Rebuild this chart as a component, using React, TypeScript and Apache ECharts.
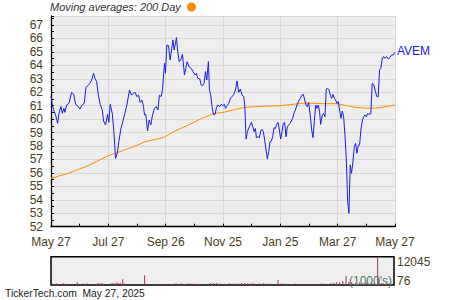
import { useEffect, useRef } from "react";
import * as echarts from "echarts";

// ---- data ----
const xTickLabels = ["May 27", "Jul 27", "Sep 26", "Nov 25", "Jan 25", "Mar 27", "May 27"];
const tickerName = "AVEM";
const legendText = "Moving averages: 200 Day";
const footerText = "TickerTech.com  May 27, 2025";
const volumeMaxLabel = "12045";
const volumeMinLabel = "76";
const volumeUnitLabel = "(1000's)";

// day offsets from May 27, 2024
const priceDays = [
  0, 1.4, 3.5, 4.9, 7.0, 8.8, 10.6, 12.0, 13.7, 14.8, 16.6, 19.0, 21.9, 24.0, 26.1, 28.2, 30.7, 32.5, 35.3, 37.1,
  38.8, 41.3, 43.1, 45.2, 46.6, 48.4, 50.1, 52.2, 54.4, 55.8, 57.9, 60.0, 61.4, 62.8, 65.0, 66.7, 68.5, 70.3, 72.0,
  74.2, 76.6, 78.4, 80.5, 83.3, 85.4, 87.2,
  89.3, 91.1, 92.9, 94.6, 96.4, 98.2, 99.2, 100.6, 102.4, 104.2, 105.9, 107.7, 109.8, 111.6, 113.4, 115.1, 116.9,
  118.3, 120.4, 121.5, 122.9, 124.7, 126.4, 128.2, 129.3, 130.7, 131.7, 133.1, 134.5, 136.0, 137.7, 139.5, 141.6,
  143.0, 144.4, 146.5, 148.7, 150.8, 152.9, 154.3, 155.7, 157.9, 159.3, 161.0, 162.4, 163.9, 165.3, 167.0, 168.1,
  169.5, 170.9, 172.4, 174.1, 175.5, 176.9, 179.1, 180.5, 182.2, 184.0,
  185.1, 186.8, 188.6, 190.4, 192.1, 193.9, 195.7, 197.4, 199.2, 201.0, 202.7, 204.5, 205.6, 207.0, 208.4, 210.5,
  212.6, 214.1, 215.5, 216.9, 217.9, 219.7, 221.1, 222.5, 223.9, 225.3, 226.7, 228.2, 229.6, 231.0, 232.4, 233.8,
  235.2, 236.6, 238.0, 239.4, 240.9, 242.3, 243.7, 245.1, 246.5, 247.9, 249.4, 250.8, 252.2, 253.6, 255.0, 256.4,
  257.8, 259.3, 261.0, 262.8, 264.6, 266.3, 267.8, 269.2, 270.6, 272.0, 273.4, 275.5, 276.6, 278.0,
  279.4, 280.8, 282.2, 283.6, 285.0, 286.1, 287.9, 289.3, 290.7, 292.1, 293.5, 295.0, 296.4, 297.8, 299.2, 300.6,
  302.0, 303.4, 304.8, 306.2, 307.7, 309.1, 310.5, 311.9, 313.3, 314.7, 316.1, 317.5, 318.9, 320.4, 321.8, 323.2,
  324.6, 326.0, 327.4, 328.8, 330.2, 331.6, 333.1, 334.5, 335.9, 337.3, 339.4, 340.8, 342.6, 344.3, 345.8, 347.2,
  348.6, 350.0, 351.4, 352.8, 354.2, 356.0, 357.8, 359.5, 361.3, 363.1, 365.0,
];
const prices = [
  61.72, 61.05, 60.55, 60.31, 59.69, 60.55, 60.93, 60.43, 60.8, 60.5, 61.05, 61.17, 61.99, 61.84, 61.1, 61.0, 60.75,
  61.0, 61.2, 62.34, 62.49, 62.66, 62.91, 63.41, 63.04, 62.79, 61.87, 61.1, 60.68, 59.86, 59.56, 60.36, 59.76, 61.1,
  60.43, 59.07, 57.08, 57.45, 58.32, 59.31, 59.93, 60.43, 61.05, 62.17, 61.79, 61.92,
  61.99, 61.67, 61.79, 61.25, 61.42, 60.93, 60.31, 60.36, 59.12, 59.93, 59.56, 60.31, 60.8, 60.93, 60.68, 61.79,
  61.67, 62.17, 64.15, 63.41, 65.51, 65.46, 64.4, 65.27, 65.89, 65.14, 65.51, 66.06, 65.02, 64.27, 64.4, 64.82,
  63.28, 63.78, 64.27, 63.9, 63.78, 63.53, 63.28, 63.41, 63.04, 62.98, 62.54, 62.49, 62.66, 63.53, 62.91, 64.27,
  62.17, 61.79, 60.93, 60.36, 60.36, 60.85, 61.05, 60.93, 61.1, 61.0, 61.1,
  60.8, 61.0, 61.17, 61.55, 61.67, 61.84, 62.17, 62.84, 61.99, 62.24, 61.79, 61.67, 61.05, 58.52, 59.07, 59.44,
  59.76, 59.44, 59.07, 59.31, 58.62, 58.69, 58.62, 59.12, 59.24, 59.07, 58.45, 57.7, 57.03, 57.58, 58.32, 58.37,
  58.69, 59.36, 59.31, 59.61, 59.76, 59.19, 58.52, 59.07, 59.69, 59.76, 58.69, 59.44, 59.56, 59.69, 59.86, 60.06,
  60.43, 60.68, 61.05, 61.35, 61.55, 61.79, 61.84, 61.42, 61.05, 60.93, 61.25, 60.0, 59.19, 58.62,
  59.81, 61.05, 60.8, 61.05, 60.55, 59.61, 60.31, 60.43, 60.18, 62.24, 62.29, 62.17, 61.79, 61.55, 61.84, 61.55,
  61.42, 61.17, 61.3, 60.68, 60.06, 60.6, 60.18, 58.82, 57.08, 53.98, 52.99, 56.59, 55.97, 56.84, 57.95, 58.2,
  57.45, 58.07, 58.07, 59.19, 59.81, 60.18, 60.31, 60.18, 60.41, 60.36, 60.41, 62.66, 62.54, 62.04, 61.67, 61.67,
  63.65, 63.78, 64.47, 64.65, 64.52, 64.65, 64.47, 64.57, 64.77, 64.77, 64.97,
];

const maDays = [0, 18.3, 39.5, 60.7, 71.3, 91.8, 100, 119, 131.7, 145.8, 159.9, 174, 184, 195.7, 206.3, 223.9, 243.4, 259.3, 269.9, 287.9, 303.7, 312.6, 323.2, 333.8, 344.3, 353.2, 365];
const maValues = [55.6, 55.97, 56.54, 57.28, 57.53, 58.07, 58.32, 58.62, 59.12, 59.56, 60.06, 60.43, 60.52, 60.73, 60.88, 60.95, 61.0, 61.12, 61.2, 61.15, 61.15, 61.02, 60.88, 60.82, 60.82, 60.9, 61.05];

const volumeDays = [
  2, 4, 6, 8, 11, 13, 15, 17, 28, 34, 36, 38, 50, 52, 54, 56, 64, 66, 68, 70, 72, 74, 76.4, 78, 99.6, 112, 115, 118,
  121, 124, 133, 136, 139, 142, 145, 148, 151, 154, 156, 170, 173, 176, 179, 182, 186, 190, 194, 198, 203, 206, 209,
  212, 215, 218, 222, 226, 230, 234, 241.6, 245, 250, 255, 260, 265, 270, 275, 280, 285, 288, 298, 301, 304, 307,
  310.5, 314, 317, 320, 324, 328, 332, 336, 340, 344, 347.6, 349, 352, 356, 360, 363,
];
const volumes = [
  500, 420, 600, 380, 450, 700, 520, 400, 1200, 600, 450, 700, 800, 600, 900, 500, 700, 900, 600, 1100, 800, 700,
  2400, 600, 4200, 400, 450, 380, 420, 400, 700, 500, 800, 450, 600, 750, 500, 650, 400, 800, 700, 900, 600, 500,
  450, 700, 500, 600, 800, 900, 700, 650, 800, 500, 600, 700, 650, 500, 2100, 600, 500, 450, 600, 500, 550, 480,
  500, 520, 600, 900, 1000, 1200, 1100, 1700, 3800, 1400, 1200, 900, 1100, 800, 1200, 900, 700, 12045, 2800, 900,
  700, 600, 500,
];

const FONT = "'Liberation Sans', Arial, Helvetica, sans-serif";
const LABEL_COLOR = "#4a3e22";
const STEP = 365 / 6;

export default function App() {
  const ref = useRef<HTMLDivElement>(null);

  useEffect(() => {
    if (!ref.current) return;
    const chart = echarts.init(ref.current, undefined, { renderer: "svg" });

    const priceData = priceDays.map((d, i) => [d, prices[i]]);
    const maData = maDays.map((d, i) => [d, maValues[i]]);
    const volData = volumeDays.map((d, i) => [d, volumes[i]]);

    const option: any = {
      animation: false,
      grid: [
        { left: 51, top: 16, width: 344, height: 210.7, show: true, backgroundColor: "#eeeeee", borderWidth: 0 },
        { left: 51, top: 256.7, width: 343, height: 28.3, show: true, backgroundColor: "#eeeeee", borderColor: "#000", borderWidth: 1.5 },
      ],
      xAxis: [
        {
          type: "value",
          gridIndex: 0,
          min: 0,
          max: 365,
          interval: STEP,
          axisLine: { show: true, onZero: false, lineStyle: { color: "#000", width: 1.3 } },
          axisTick: { show: true, inside: true, length: 3, lineStyle: { color: "#000" } },
          minorTick: { show: true, splitNumber: 2, length: 3, lineStyle: { color: "#000" } },
          splitLine: { show: true, lineStyle: { color: "#d8d8d8", width: 1 } },
          axisLabel: {
            margin: 9,
            fontSize: 12,
            fontFamily: FONT,
            color: LABEL_COLOR,
            formatter: (v: number) => xTickLabels[Math.round(v / STEP)] ?? "",
          },
        },
        { type: "value", gridIndex: 1, min: 0, max: 365, show: false },
      ],
      yAxis: [
        {
          type: "value",
          gridIndex: 0,
          min: 52,
          max: 67.67,
          interval: 1,
          axisLine: { show: true, onZero: false, lineStyle: { color: "#000", width: 1.3 } },
          axisTick: { show: true, inside: true, length: 3, lineStyle: { color: "#000" } },
          minorTick: { show: true, splitNumber: 2, length: 3, lineStyle: { color: "#000" } },
          splitLine: { show: true, lineStyle: { color: "#d8d8d8", width: 1 } },
          axisLabel: {
            margin: 8,
            fontSize: 12,
            fontFamily: FONT,
            color: LABEL_COLOR,
            formatter: (v: number) => (Math.abs(v - Math.round(v)) < 1e-6 ? String(Math.round(v)) : ""),
          },
        },
        { type: "value", gridIndex: 1, min: 0, max: 12045, show: false },
      ],
      series: [
        {
          type: "bar",
          xAxisIndex: 1,
          yAxisIndex: 1,
          data: volData,
          barWidth: 1,
          itemStyle: { color: "#993366" },
          silent: true,
        },
        {
          type: "line",
          xAxisIndex: 0,
          yAxisIndex: 0,
          data: maData,
          showSymbol: false,
          lineStyle: { color: "#ff8c00", width: 1 },
          z: 3,
        },
        {
          type: "line",
          xAxisIndex: 0,
          yAxisIndex: 0,
          data: priceData,
          showSymbol: false,
          lineStyle: { color: "#1c1ce6", width: 1 },
          z: 4,
        },
      ],
      graphic: [
        {
          type: "text",
          left: 50,
          top: 1.5,
          style: { text: legendText, fontSize: 11, fontStyle: "italic", fontFamily: FONT, fill: "#333" },
        },
        { type: "circle", shape: { cx: 191.5, cy: 7, r: 4.5 }, style: { fill: "#ff8c00" } },
        {
          type: "text",
          left: 397,
          top: 45,
          style: { text: tickerName, fontSize: 12, fontFamily: FONT, fill: "#1c1ce6" },
        },
        {
          type: "text",
          left: 397,
          top: 256,
          style: { text: volumeMaxLabel, fontSize: 12, fontFamily: FONT, fill: LABEL_COLOR },
        },
        {
          type: "text",
          left: 397,
          top: 275,
          style: { text: volumeMinLabel, fontSize: 12, fontFamily: FONT, fill: LABEL_COLOR },
        },
        {
          type: "text",
          left: 349,
          top: 275,
          z: 10,
          style: { text: volumeUnitLabel, fontSize: 12, fontFamily: FONT, fill: "#4f7a5f" },
        },
        {
          type: "text",
          left: 5,
          top: 288,
          style: { text: footerText, fontSize: 10.3, fontFamily: FONT, fill: "#222" },
        },
      ],
    };

    chart.setOption(option);
    return () => chart.dispose();
  }, []);

  return <div ref={ref} style={{ position: "absolute", left: 0, top: 0, width: 450, height: 300 }} />;
}
